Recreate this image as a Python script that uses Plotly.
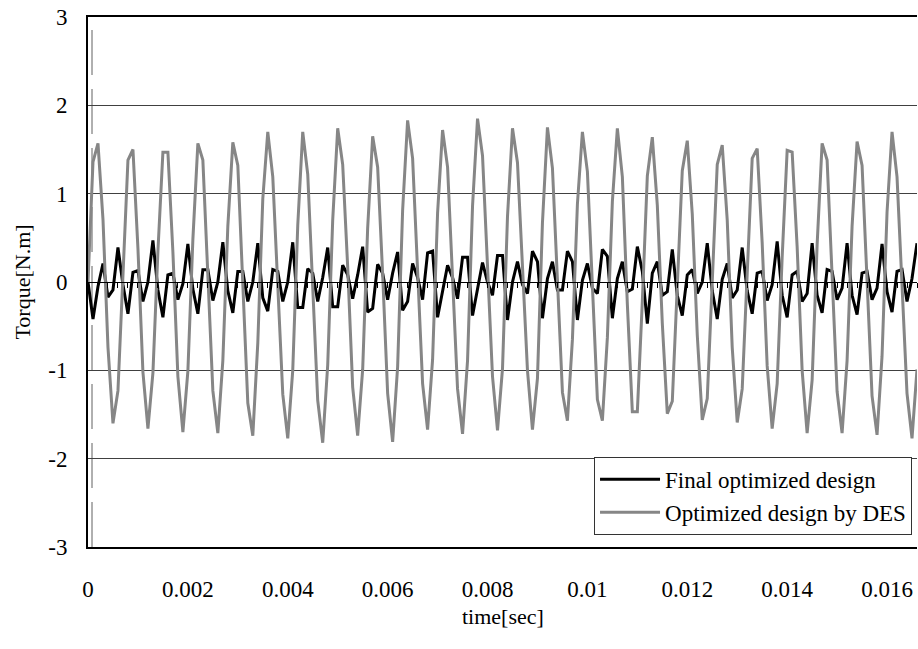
import plotly.graph_objects as go

# ---------------- data ----------------
t_start = 0.0
t_step = 0.0001          # sampling step of both torque waveforms [s]
n_samples = 167
time_s = [round(t_start + i * t_step, 4) for i in range(n_samples)]

final_torque = [
    0.00, -0.42, -0.05, 0.21, -0.17, -0.09, 0.39, -0.03, -0.36, 0.11,
    0.13, -0.22, 0.00, 0.47, -0.09, -0.40, 0.08, 0.10, -0.20, -0.02,
    0.43, -0.08, -0.36, 0.14, 0.14, -0.21, 0.00, 0.45, -0.10, -0.35,
    0.12, 0.12, -0.22, 0.00, 0.44, -0.18, -0.33, 0.14, 0.12, -0.22,
    0.00, 0.45, -0.29, -0.29, 0.15, 0.10, -0.22, 0.05, 0.39, -0.28,
    -0.28, 0.19, 0.08, -0.19, 0.08, 0.40, -0.34, -0.30, 0.20, 0.10,
    -0.20, 0.10, 0.34, -0.32, -0.22, 0.21, 0.05, -0.20, 0.33, 0.35,
    -0.40, -0.10, 0.19, 0.05, -0.19, 0.28, 0.28, -0.38, -0.10, 0.22,
    0.00, -0.15, 0.30, 0.30, -0.43, 0.00, 0.23, -0.03, -0.13, 0.35,
    0.23, -0.41, 0.04, 0.23, -0.09, -0.09, 0.35, 0.23, -0.43, 0.02,
    0.21, -0.07, -0.13, 0.37, 0.29, -0.41, 0.04, 0.23, -0.11, -0.08,
    0.40, 0.12, -0.47, 0.10, 0.23, -0.15, -0.11, 0.37, -0.15, -0.38,
    0.08, 0.14, -0.13, 0.00, 0.44, -0.10, -0.42, 0.03, 0.21, -0.18,
    -0.09, 0.39, -0.10, -0.36, 0.10, 0.12, -0.21, -0.03, 0.46, -0.15,
    -0.40, 0.08, 0.12, -0.22, -0.13, 0.44, -0.15, -0.35, 0.14, 0.12,
    -0.20, -0.07, 0.44, -0.15, -0.37, 0.10, 0.12, -0.20, -0.07, 0.43,
    -0.11, -0.34, 0.12, 0.14, -0.22, 0.04, 0.44,
]

des_torque = [
    0.00, 1.36, 1.57, 0.71, -0.74, -1.60, -1.23, 0.11, 1.38, 1.50,
    0.38, -1.02, -1.66, -1.03, 0.35, 1.47, 1.47, 0.34, -1.07, -1.70,
    -1.01, 0.48, 1.57, 1.38, 0.09, -1.23, -1.71, -0.89, 0.63, 1.58,
    1.32, -0.07, -1.37, -1.74, -0.69, 0.94, 1.70, 1.19, -0.03, -1.27,
    -1.77, -1.00, 0.64, 1.70, 1.22, 0.02, -1.34, -1.82, -0.94, 0.70,
    1.74, 1.33, 0.17, -1.19, -1.74, -0.99, 0.61, 1.65, 1.30, 0.09,
    -1.26, -1.81, -0.96, 0.81, 1.83, 1.40, 0.15, -1.15, -1.67, -0.88,
    0.78, 1.72, 1.30, 0.07, -1.21, -1.72, -0.89, 0.86, 1.85, 1.43,
    0.23, -1.07, -1.68, -0.98, 0.74, 1.74, 1.35, 0.23, -1.00, -1.67,
    -1.09, 0.67, 1.75, 1.29, 0.00, -1.25, -1.57, -0.65, 0.88, 1.70,
    1.25, -0.03, -1.33, -1.57, -0.63, 0.91, 1.74, 1.19, -0.25, -1.47,
    -1.47, -0.22, 1.20, 1.64, 0.87, -0.47, -1.49, -1.35, -0.10, 1.26,
    1.60, 0.77, -0.60, -1.56, -1.32, -0.07, 1.33, 1.55, 0.70, -0.74,
    -1.59, -1.21, 0.11, 1.40, 1.51, 0.44, -0.95, -1.66, -1.15, 0.28,
    1.49, 1.47, 0.40, -1.00, -1.71, -1.11, 0.42, 1.57, 1.38, 0.08,
    -1.24, -1.71, -0.89, 0.63, 1.59, 1.32, 0.00, -1.29, -1.73, -0.84,
    0.79, 1.70, 1.19, 0.03, -1.26, -1.77, -0.99,
]

series_names = ["Final optimized design", "Optimized design by DES"]
x_title = "time[sec]"
y_title = "Torque[N.m]"

x_tick_vals = [0, 0.002, 0.004, 0.006, 0.008, 0.010, 0.012, 0.014, 0.016]
x_tick_text = ["0", "0.002", "0.004", "0.006", "0.008", "0.01", "0.012", "0.014", "0.016"]
y_tick_vals = [-3, -2, -1, 0, 1, 2, 3]
y_tick_text = ["-3", "-2", "-1", "0", "1", "2", "3"]

x_range = [0, 0.0166]
y_range = [-3, 3]

# ---------------- figure ----------------
FONT = "Liberation Serif, Times New Roman, DejaVu Serif, serif"
CLEAR = "rgba(0,0,0,0)"

fig = go.Figure()
fig.add_trace(go.Scatter(
    x=time_s, y=final_torque, mode="lines", name=series_names[0],
    line=dict(color="#000000", width=3), xaxis="x", yaxis="y",
))
fig.add_trace(go.Scatter(
    x=time_s, y=des_torque, mode="lines", name=series_names[1],
    line=dict(color="#868686", width=3), xaxis="x2", yaxis="y",
))

# thin dashed vertical marker just right of the value axis
fig.add_shape(
    type="line", xref="x", yref="paper", x0=0.00008, x1=0.00008, y0=0, y1=1,
    line=dict(color="#606060", width=1, dash="45px,14px"), layer="below",
)

# x-axis title placed as paper annotation (centred under the plot)
fig.add_annotation(
    text=x_title, xref="paper", yref="paper", x=0.5, y=-0.132,
    xanchor="center", yanchor="middle", showarrow=False,
    font=dict(family=FONT, size=22, color="black"),
)

fig.update_layout(
    width=918, height=649,
    margin=dict(l=88, r=1, t=17, b=102),
    paper_bgcolor="white", plot_bgcolor="white",
    font=dict(family=FONT, size=23, color="black"),
    showlegend=True,
    legend=dict(
        x=0.994, y=0.023, xanchor="right", yanchor="bottom",
        bgcolor="white", bordercolor="#333333", borderwidth=1,
        font=dict(family=FONT, size=23, color="black"),
        tracegroupgap=0, itemwidth=60,
    ),
    xaxis=dict(
        range=x_range, tickvals=x_tick_vals, ticktext=x_tick_text,
        showgrid=False, zeroline=False, showline=True, mirror=True,
        linecolor="black", linewidth=1.5,
        ticks="outside", ticklen=21, tickcolor=CLEAR,
        automargin=False,
        tickfont=dict(family=FONT, size=23),
    ),
    xaxis2=dict(
        range=x_range, overlaying="x", anchor="free", position=0.5,
        side="bottom", showgrid=False, zeroline=False, showline=True,
        linecolor="black", linewidth=1, ticks="outside", ticklen=5,
        tickcolor="black", dtick=0.0002, tick0=0, showticklabels=False,
    ),
    yaxis=dict(
        range=y_range, tickvals=y_tick_vals, ticktext=y_tick_text,
        showgrid=True, gridcolor="#404040", gridwidth=1,
        zeroline=False, showline=True, linecolor="black", linewidth=2,
        ticks="outside", ticklen=14, tickcolor=CLEAR, automargin=False,
        tickfont=dict(family=FONT, size=23),
        title=dict(text=y_title, font=dict(family=FONT, size=22), standoff=12),
    ),
)

fig.write_html("out.html")
